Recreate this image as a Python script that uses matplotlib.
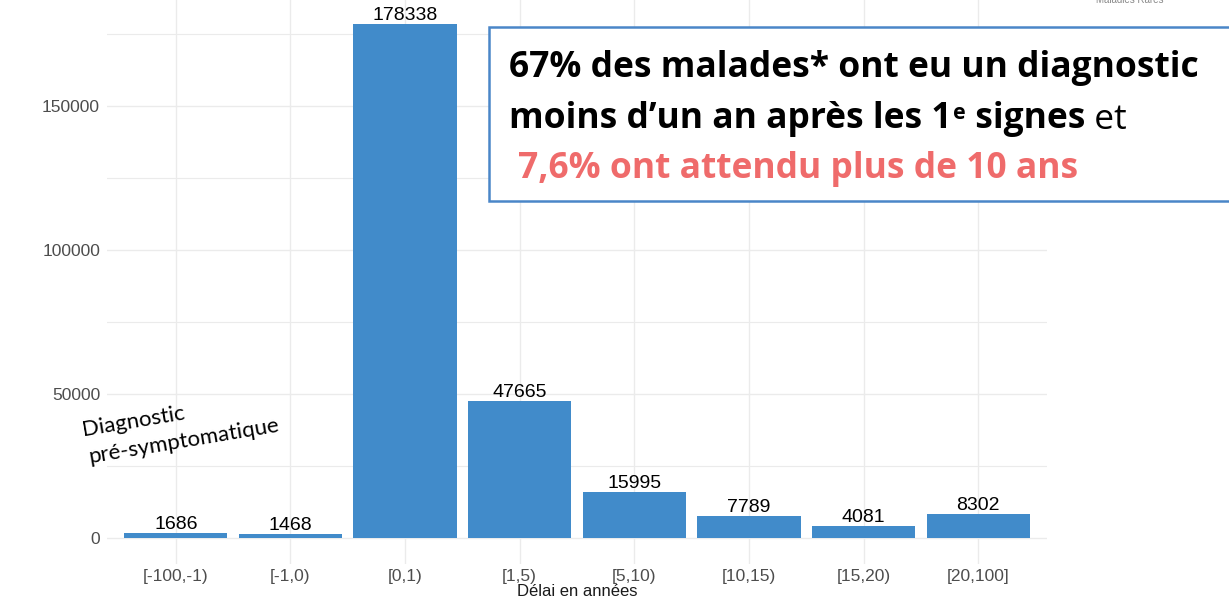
import matplotlib
matplotlib.use("Agg")
import matplotlib.pyplot as plt
from matplotlib.patches import Rectangle

# data
categories = ["[-100,-1)", "[-1,0)", "[0,1)", "[1,5)", "[5,10)", "[10,15)", "[15,20)", "[20,100]"]
counts = [1686, 1468, 178338, 47665, 15995, 7789, 4081, 8302]
y_ticks = [0, 50000, 100000, 150000]
y_minor = [25000, 75000, 125000, 175000]

BAR_COLOR = "#418bca"
BOX_COLOR = "#4a86c8"
RED = "#ef6b6b"
GRID = "#ebebeb"
W, H = 1229, 606


def main():
    fig = plt.figure(figsize=(W / 100, H / 100), dpi=100)
    ax = fig.add_axes([107 / W, 42.3 / H, 940 / W, 565 / H])

    x = list(range(1, len(categories) + 1))
    ymax = max(counts)
    ax.set_xlim(0.4, len(categories) + 0.6)
    ax.set_ylim(-0.05 * ymax, 1.05 * ymax)

    # ggplot theme_minimal look
    for s in ax.spines.values():
        s.set_visible(False)
    ax.set_yticks(y_ticks)
    ax.set_yticks(y_minor, minor=True)
    ax.set_xticks(x)
    ax.set_xticklabels(categories)
    ax.grid(True, which="major", color=GRID, lw=1.0, zorder=0)
    ax.grid(True, which="minor", axis="y", color=GRID, lw=0.8, zorder=0)
    ax.set_axisbelow(True)
    ax.tick_params(which="both", length=0)
    ax.tick_params(axis="y", pad=5, labelsize=12.5, labelcolor="#4d4d4d")
    ax.tick_params(axis="x", pad=4, labelsize=12.5, labelcolor="#4d4d4d")
    for lab in ax.get_xticklabels() + ax.get_yticklabels():
        lab.set_fontfamily("Liberation Sans")

    ax.bar(x, counts, width=0.9, color=BAR_COLOR, zorder=2)
    for xi, c in zip(x, counts):
        ax.text(xi, c, str(c), ha="center", va="bottom", fontsize=14,
                family="Liberation Sans", color="black", zorder=3)

    ax.set_xlabel("Délai en années", fontsize=12, family="Liberation Sans",
                  color="#1a1a1a", labelpad=0)

    # hand-written note on the left
    ax.text(83 / W, 1 - 436 / H, "Diagnostic", rotation=9.5, rotation_mode="anchor",
            transform=fig.transFigure, ha="left", va="baseline", fontsize=16, family="Lato")
    ax.text(90 / W, 1 - 463 / H, "pré-symptomatique", rotation=9.5, rotation_mode="anchor",
            transform=fig.transFigure, ha="left", va="baseline", fontsize=16, family="Lato")

    # source caption cut off at the top right
    ax.text(1130 / W, 1.0, "Maladies Rares", ha="center", va="center", transform=fig.transFigure,
            fontsize=7, color="#888888", family="Liberation Sans")

    # callout box (runs past the right edge)
    box = Rectangle((489 / W, 1 - 201 / H), 800 / W, 174 / H, transform=fig.transFigure,
                    facecolor="white", edgecolor=BOX_COLOR, lw=1.8, zorder=5, clip_on=False)
    ax.add_patch(box)

    fs = 25.5
    bold = dict(family="Open Sans", fontweight="bold", fontsize=fs, zorder=6)
    ax.text(509 / W, 1 - 77 / H, "67% des malades* ont eu un diagnostic", transform=fig.transFigure,
            ha="left", va="baseline", color="black", **bold)

    t = ax.text(509 / W, 1 - 128 / H, "moins d\u2019un an après les 1", transform=fig.transFigure,
                ha="left", va="baseline", color="black", **bold)
    sup = ax.annotate("e", xy=(1, 1), xycoords=t, xytext=(1, -1.5), textcoords="offset points",
                      ha="left", va="top", color="black", family="Open Sans",
                      fontweight="bold", fontsize=fs * 0.6, annotation_clip=False, zorder=6)
    t2 = ax.annotate(" signes", xy=(1, 0), xycoords=(sup, t), ha="left", va="bottom",
                     color="black", annotation_clip=False, **bold)
    ax.annotate(" et", xy=(1, 0), xycoords=t2, ha="left", va="bottom", color="black",
                family="Open Sans", fontsize=fs, annotation_clip=False, zorder=6)

    ax.text(518 / W, 1 - 178 / H, "7,6% ont attendu plus de 10 ans", transform=fig.transFigure,
            ha="left", va="baseline", color=RED, **bold)

    fig.savefig("out.png", dpi=100, facecolor="white")
    plt.close(fig)


if __name__ == "__main__":
    main()
